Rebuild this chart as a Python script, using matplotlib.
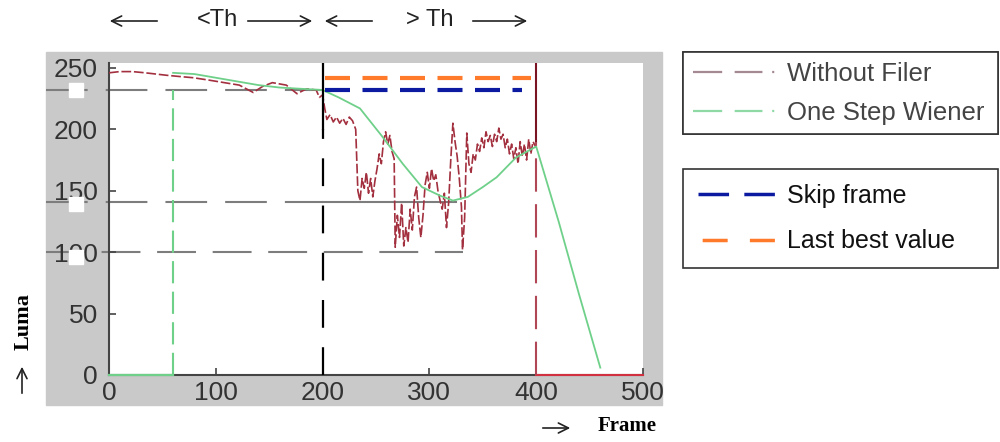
import matplotlib
matplotlib.use('Agg')
import matplotlib.pyplot as plt
from matplotlib.lines import Line2D
from matplotlib.patches import Rectangle, FancyArrowPatch

plt.rcParams['font.family'] = ['Liberation Sans', 'DejaVu Sans']
plt.rcParams['lines.scale_dashes'] = False

W, H = 1000, 442

# --- data ---
# luma without filter, frames 0..400
wf_frames = [0, 10, 22, 34, 44, 54, 66, 79, 94, 108, 122, 135, 144, 153, 166, 176, 185, 194, 197,
             200, 202, 204, 207, 210, 213, 216, 219, 222, 225, 228, 231, 233, 235, 237, 239, 241,
             243, 245, 247, 249, 251, 253, 255, 257, 259, 261, 263, 265, 267, 268, 270, 272, 274,
             276, 278, 280, 282, 284, 286, 288, 290, 292, 294, 296, 298, 300, 302, 304, 306, 308,
             310, 312, 314, 316, 318, 320, 322, 324, 326, 328, 330, 331, 333, 335, 337, 339, 341,
             343, 345, 347, 349, 351, 353, 355, 357, 359, 361, 363, 365, 367, 369, 371, 373, 375,
             377, 379, 381, 383, 385, 387, 389, 391, 393, 395, 397, 400]
wf_luma = [246, 247, 247, 246, 245, 244, 243, 242, 240, 238, 236, 230, 235, 238, 236, 229, 233, 232, 226,
           228, 217, 208, 212, 206, 210, 205, 209, 204, 210, 207, 200, 150, 142, 160, 152, 165,
           148, 160, 145, 158, 168, 180, 172, 190, 198, 188, 195, 182, 176, 104, 130, 112, 140,
           105, 120, 108, 135, 118, 145, 153, 128, 112, 130, 155, 165, 152, 168, 158, 163, 150,
           142, 135, 148, 120, 140, 175, 205, 190, 178, 160, 137, 102, 128, 197, 172, 165, 180,
           175, 188, 182, 193, 185, 198, 190, 195, 186, 196, 190, 201, 192, 196, 185, 192, 180,
           188, 176, 185, 172, 190, 178, 188, 175, 192, 180, 190, 185]
wf_tail_frames = [400, 500]
wf_tail_luma = [0, 0]

# one step wiener output
wiener_head_frames = [0, 60]
wiener_head_luma = [0, 0]
wiener_frames = [60, 80, 100, 120, 140, 160, 180, 200, 215, 235, 256, 275, 293, 310, 322, 336,
                 350, 363, 381, 400, 421, 440, 460]
wiener_luma = [246, 245, 242, 239, 236, 234, 233, 232, 226, 217, 194, 172, 153, 146, 142, 145,
               153, 161, 177, 186, 125, 66, 6]

skip_luma = 232
last_best_luma = 242
ref_levels = [232, 141, 100]
th_frame = 200
end_frame = 400
wiener_start = 60

x_ticks = [0, 100, 200, 300, 400, 500]
y_ticks = [0, 50, 100, 150, 200, 250]


def fx(px):
    return px / W


def fy(py):
    return 1 - py / H


fig = plt.figure(figsize=(10, 4.42), dpi=100)

# grey matlab-style figure background
fig.add_artist(Rectangle((fx(46), fy(405)), fx(662) - fx(46), (405 - 52) / H,
                         transform=fig.transFigure, color='#c9c9c9', zorder=-10))

ax = fig.add_axes([fx(109), fy(375), fx(643) - fx(109), (375 - 63) / H])
ax.set_facecolor('white')
ax.set_xlim(0, 500)
ax.set_ylim(0, 254)

# reference lines (extend out into grey area)
gray = '#7d7d7d'
ax.plot([-59, th_frame], [ref_levels[0]] * 2, color=gray, lw=1.5, dashes=(30, 13), clip_on=False, zorder=1)
ax.plot([-59, th_frame], [ref_levels[1]] * 2, color=gray, lw=1.5, dashes=(30, 13), clip_on=False, zorder=1)
ax.plot([th_frame, 325], [ref_levels[1]] * 2, color=gray, lw=1.5, zorder=1)
ax.plot([-59, 331], [ref_levels[2]] * 2, color=gray, lw=1.5, dashes=(28, 12), clip_on=False, zorder=1)

# threshold markers
ax.plot([th_frame, th_frame], [200, 254], color='black', lw=1.6, zorder=4)
ax.plot([th_frame, th_frame], [0, 200], color='black', lw=1.6, dashes=(20, 14), zorder=4)
ax.plot([end_frame, end_frame], [190, 254], color='#7a1424', lw=1.5, zorder=4)
ax.plot([end_frame, end_frame], [0, 190], color='#b04656', lw=1.5, dashes=(24, 9), zorder=4)

# series
ax.plot(wf_frames, wf_luma, color='#a3303f', lw=1.2, dashes=(7, 2), zorder=3)
ax.plot(wf_tail_frames, wf_tail_luma, color='#d03040', lw=1.5, zorder=3, clip_on=False)
ax.plot(wiener_head_frames, wiener_head_luma, color='#6fd08a', lw=1.6, zorder=3, clip_on=False)
ax.plot([wiener_start, wiener_start], [0, skip_luma], color='#6fd08a', lw=1.5, dashes=(16, 6), zorder=3)
ax.plot(wiener_frames, wiener_luma, color='#6fd08a', lw=1.3, zorder=3)

# skip frame / last best value
ax.plot([202, 387], [skip_luma] * 2, color='#0b1aa0', lw=3, dashes=(18, 9), zorder=5)
ax.plot([202, 395], [last_best_luma] * 2, color='#ff7a2a', lw=3, dashes=(18, 9), zorder=5)

for s in ['top', 'right']:
    ax.spines[s].set_visible(False)
for s in ['left', 'bottom']:
    ax.spines[s].set_color('#444444')
    ax.spines[s].set_linewidth(1.5)
ax.set_xticks(x_ticks)
ax.set_yticks(y_ticks)
ax.tick_params(direction='in', length=5, width=1.2, color='#444444',
               labelsize=19, labelcolor='#333333')
ax.tick_params(axis='y', pad=8)
ax.tick_params(axis='x', pad=4)

# white squares on the left
for py in [90, 204, 257]:
    fig.add_artist(Rectangle((fx(69), fy(py + 7)), 14 / W, 14 / H,
                             transform=fig.transFigure, color='white', zorder=10))

# legends
h1 = [Line2D([], [], color='#a48894', lw=1.6, dashes=(21, 9, 20, 7, 1.5, 1)),
      Line2D([], [], color='#8fd9a5', lw=1.6, dashes=(21, 9, 20, 7, 1.5, 1))]
leg1 = fig.legend(handles=h1, labels=['Without Filer', 'One Step Wiener'],
                  loc='upper left', bbox_to_anchor=(fx(683), fy(52), fx(998) - fx(683), 0),
                  mode='expand', borderaxespad=0, fontsize=18.5, handlelength=3.2,
                  handletextpad=0.45, labelspacing=0.58, borderpad=0.38,
                  fancybox=False, framealpha=1, edgecolor='#333333', labelcolor='#444444')
leg1.get_frame().set_linewidth(1.2)

h2 = [Line2D([], [], color='#0b1aa0', lw=2.5, dashes=(22, 11)),
      Line2D([], [], color='#ff7a2a', lw=2.5, dashes=(0, 3, 18, 13))]
leg2 = fig.legend(handles=h2, labels=['Skip frame', 'Last best value'],
                  loc='upper left', bbox_to_anchor=(fx(683), fy(169), fx(998) - fx(683), 0),
                  mode='expand', borderaxespad=0, fontsize=18, handlelength=3.1,
                  handletextpad=0.45, labelspacing=0.85, borderpad=0.6,
                  fancybox=False, framealpha=1, edgecolor='#333333', labelcolor='#111111')
leg2.get_frame().set_linewidth(1.2)
fig.add_artist(leg1)

# top arrows and labels
arrow_kw = dict(arrowstyle='->', color='#222222', lw=1.2, mutation_scale=18)
for x0, x1 in [(160, 107), (245, 315), (375, 322), (470, 530)]:
    fig.add_artist(FancyArrowPatch((fx(x0), fy(21)), (fx(x1), fy(21)),
                                   transform=fig.transFigure, **arrow_kw))
fig.text(fx(217), fy(20), '<Th', ha='center', va='center', fontsize=17, color='#222222')
fig.text(fx(430), fy(20), '> Th', ha='center', va='center', fontsize=17, color='#222222')

# axis labels
fig.add_artist(FancyArrowPatch((fx(540), fy(428)), (fx(573), fy(428)),
                               transform=fig.transFigure, **arrow_kw))
fig.text(fx(598), fy(426), 'Frame', ha='left', va='center', fontsize=15,
         fontweight='bold', family=['Liberation Serif', 'DejaVu Serif'])
fig.add_artist(FancyArrowPatch((fx(22), fy(396)), (fx(22), fy(364)),
                               transform=fig.transFigure, **arrow_kw))
fig.text(fx(24), fy(322), 'Luma', ha='center', va='center', fontsize=16, rotation=90,
         fontweight='bold', family=['Liberation Serif', 'DejaVu Serif'])

fig.savefig('out.png', dpi=100)
